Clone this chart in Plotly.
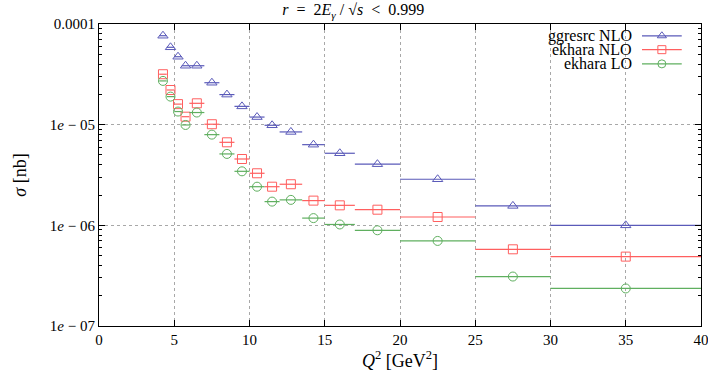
import plotly.graph_objects as go

# Q^2 bin edges [GeV^2]
q2_edges = [4, 4.5, 5, 5.5, 6, 7, 8, 9, 10, 11, 12, 13.5, 15, 17, 20, 25, 30, 40]

# cross sections [nb], one value per bin
ggresrc_nlo = [7.65e-5, 5.87e-5, 4.73e-5, 3.85e-5, 3.85e-5, 2.61e-5, 1.99e-5, 1.52e-5,
               1.19e-5, 9.86e-6, 8.47e-6, 6.33e-6, 5.2e-6, 4.05e-6, 2.87e-6, 1.56e-6, 1.0e-6]
ekhara_nlo = [3.17e-5, 2.21e-5, 1.6e-5, 1.2e-5, 1.63e-5, 1.01e-5, 6.68e-6, 4.56e-6,
              3.29e-6, 2.42e-6, 2.56e-6, 1.76e-6, 1.58e-6, 1.43e-6, 1.21e-6, 5.78e-7, 4.89e-7]
ekhara_lo = [2.72e-5, 1.9e-5, 1.35e-5, 9.93e-6, 1.32e-5, 7.96e-6, 5.12e-6, 3.44e-6,
             2.42e-6, 1.72e-6, 1.79e-6, 1.18e-6, 1.02e-6, 8.93e-7, 7.0e-7, 3.1e-7, 2.36e-7]

y_tickvals = [1e-7, 1e-6, 1e-5, 1e-4]
y_ticktext = ["1<i>e</i> − 07", "1<i>e</i> − 06", "1<i>e</i> − 05", "0.0001"]

series = [
    ("ggresrc NLO", ggresrc_nlo, "rgb(90,90,185)", "triangle-up-open"),
    ("ekhara NLO", ekhara_nlo, "rgb(255,95,95)", "square-open"),
    ("ekhara LO", ekhara_lo, "rgb(95,175,95)", "circle-open"),
]

FONT = "Liberation Serif"

q2_mid = [(a + b) / 2 for a, b in zip(q2_edges[:-1], q2_edges[1:])]
q2_half = [(b - a) / 2 for a, b in zip(q2_edges[:-1], q2_edges[1:])]

fig = go.Figure()

for name, vals, color, symbol in series:
    fig.add_trace(go.Scatter(
        x=q2_mid, y=vals, mode="markers", name=name, showlegend=False,
        marker=dict(symbol=symbol, size=9, color=color, line=dict(width=1, color=color)),
        error_x=dict(type="data", array=q2_half, visible=True, width=0,
                     thickness=1.2, color=color),
    ))

# gnuplot-style key: text on the left, sample on the right
key_rows = [0.961, 0.915, 0.868]
for (name, vals, color, symbol), ky in zip(series, key_rows):
    fig.add_trace(go.Scatter(
        x=[0.902, 0.968], y=[ky, ky], xaxis="x2", yaxis="y2", mode="lines",
        line=dict(color=color, width=1.2), showlegend=False, hoverinfo="skip",
    ))
    fig.add_trace(go.Scatter(
        x=[0.935], y=[ky], xaxis="x2", yaxis="y2", mode="markers",
        marker=dict(symbol=symbol, size=8, color=color, line=dict(width=1, color=color)),
        showlegend=False, hoverinfo="skip",
    ))
    fig.add_annotation(
        x=0.888, y=ky, xref="x2", yref="y2", text=name, showarrow=False,
        xanchor="right", yanchor="middle", font=dict(family=FONT, size=16, color="black"),
    )

minor_vals = [m * 10 ** e for e in range(-7, -4 + 1) for m in range(2, 10) if m * 10 ** e < 1e-4]

fig.update_layout(
    width=708, height=372,
    margin=dict(l=99, r=7, t=24, b=46, autoexpand=False),
    paper_bgcolor="white", plot_bgcolor="white",
    font=dict(family=FONT, size=15, color="black"),
    title=dict(text="<i>r</i>  =  2<i>E</i><sub><i>γ</i></sub> / √<i>s</i>  <  0.999",
               x=0.499, xref="container", xanchor="center", y=0.974, yanchor="middle",
               font=dict(family=FONT, size=16)),
    xaxis=dict(
        range=[0, 40], tickmode="linear", tick0=0, dtick=5, automargin=False,
        ticklabeloverflow="allow",
        ticks="inside", ticklen=6, tickcolor="black",
        showline=True, linecolor="black", linewidth=1, mirror="allticks",
        showgrid=True, gridcolor="#a8a8a8", griddash="dot", gridwidth=1,
        zeroline=False,
        title=dict(text="<i>Q</i><sup>2</sup> [GeV<sup>2</sup>]", standoff=4),
    ),
    yaxis=dict(
        type="log", range=[-7, -4], automargin=False,
        tickmode="array", tickvals=y_tickvals, ticktext=y_ticktext,
        ticks="inside", ticklen=6, tickcolor="black",
        minor=dict(tickmode="array", tickvals=minor_vals, ticks="inside",
                   ticklen=3, tickcolor="black", showgrid=False),
        showline=True, linecolor="black", linewidth=1, mirror="allticks",
        showgrid=True, gridcolor="#a8a8a8", griddash="dot", gridwidth=1,
        zeroline=False,
        title=dict(text="<i>σ</i> [nb]", standoff=18),
    ),
    xaxis2=dict(overlaying="x", range=[0, 1], visible=False, fixedrange=True),
    yaxis2=dict(overlaying="y", range=[0, 1], visible=False, fixedrange=True),
)

# drop the default 8px page margin so the figure sits at the window corner
fig.write_html("out.html", config={"displayModeBar": False},
               post_script="document.body.style.margin = '0';")
